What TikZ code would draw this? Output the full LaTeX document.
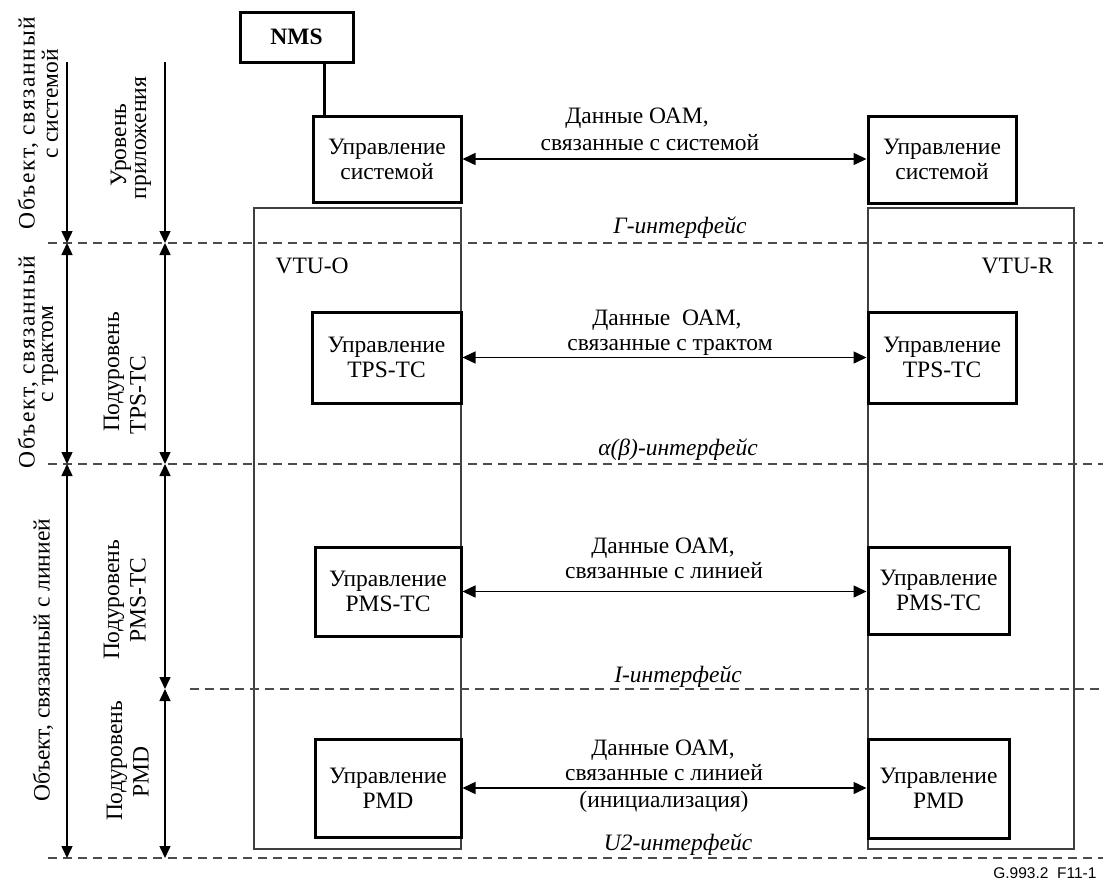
\documentclass[tikz,border=0pt]{standalone}
\usepackage{fontspec}
\setmainfont{Liberation Serif}
\newfontfamily\labelsans{Liberation Sans}
\newfontfamily\widefont[LetterSpace=7]{Liberation Serif}
\usetikzlibrary{arrows.meta}
\begin{document}
\begin{tikzpicture}[x=1pt,y=-1pt,
  every node/.style={font=\fontsize{23.5}{25}\selectfont},
  blk/.style={draw, line width=3pt, inner sep=0pt, align=center},
  unit/.style={draw=black!75, line width=1.3pt, inner sep=0pt},
  iface/.style={draw=black!70, line width=1.3pt, dash pattern=on 9pt off 6pt},
  dimline/.style={line width=1.5pt, {Triangle[length=12pt,width=11pt]}-{Triangle[length=12pt,width=11pt]}},
  dimend/.style={line width=1.5pt, -{Triangle[length=12pt,width=11pt]}},
  flow/.style={line width=1.5pt, {Triangle[length=13pt,width=12pt]}-{Triangle[length=13pt,width=12pt]}},
  lbl/.style={anchor=base},
  iflbl/.style={anchor=base, font=\fontsize{23.5}{25}\selectfont\itshape},
  vlbl/.style={rotate=90, anchor=center},
  vwide/.style={rotate=90, anchor=center, font=\widefont\fontsize{23.5}{25}\selectfont},
]
\useasboundingbox (0,0) rectangle (1103,881);

% VTU units
\node[unit, minimum width=207pt, minimum height=641pt] (vtuO) at (357.5,528.5) {};
\node[unit, minimum width=206pt, minimum height=641pt] (vtuR) at (971,528.5) {};
\node[anchor=base west] (vtuOlbl) at (272,273) {VTU-O};
\node[anchor=base east] (vtuRlbl) at (1057,273) {VTU-R};

% interfaces
\coordinate (gL) at (48,243);  \coordinate (gR) at (1103,243);
\coordinate (abL) at (48,464); \coordinate (abR) at (1103,464);
\coordinate (iL) at (190,689); \coordinate (iR) at (1103,689);
\coordinate (uL) at (48,858);  \coordinate (uR) at (1103,858);
\draw[iface] (gL) -- (gR);
\draw[iface] (abL) -- (abR);
\draw[iface] (iL) -- (iR);
\draw[iface] (uL) -- (uR);
\node[iflbl] (gLbl) at (680,233) {Г-интерфейс};
\node[iflbl] (abLbl) at (678,455) {α(β)-интерфейс};
\node[iflbl] (iLbl) at (678,682) {I-интерфейс};
\node[iflbl] (uLbl) at (678,850) {U2-интерфейс};

% NMS
\node[blk, minimum width=113pt, minimum height=50pt] (nms) at (296.5,37) {\bfseries NMS};

% management blocks
\node[blk, fill=white, minimum width=148pt, minimum height=86pt] (sysL) at (387,159) {Управление\\системой};
\node[blk, fill=white, minimum width=148pt, minimum height=87pt] (sysR) at (942,159.5) {Управление\\системой};
\node[blk, fill=white, minimum width=149pt, minimum height=91pt] (tpsL) at (386.5,357.5) {Управление\\TPS-TC};
\node[blk, fill=white, minimum width=148pt, minimum height=91pt] (tpsR) at (942,357.5) {Управление\\TPS-TC};
\node[blk, fill=white, minimum width=146pt, minimum height=89pt] (pmsL) at (388,591.5) {Управление\\PMS-TC};
\node[blk, fill=white, minimum width=141pt, minimum height=87pt] (pmsR) at (938.5,590.5) {Управление\\PMS-TC};
\node[blk, fill=white, minimum width=146pt, minimum height=98pt] (pmdL) at (388,788) {Управление\\PMD};
\node[blk, fill=white, minimum width=141pt, minimum height=99pt] (pmdR) at (938.5,788.5) {Управление\\PMD};

\draw[line width=3pt] ([xshift=27.5pt]nms.south) -- ([xshift=27.5pt]nms.south |- sysL.north);

% OAM flows
\draw[flow] (sysL.east) -- (sysL.east -| sysR.west);
\draw[flow] (tpsL.east) -- (tpsL.east -| tpsR.west);
\draw[flow] (pmsL.east) -- (pmsL.east -| pmsR.west);
\draw[flow] (pmdL.east) -- (pmdL.east -| pmdR.west);

\node[lbl] (s1) at (637,123) {Данные ОАМ,};
\node[lbl] (s2) at (650,150) {связанные с системой};
\node[lbl] (t1) at (667,325) {Данные\ \ ОАМ,};
\node[lbl] (t2) at (670,350) {связанные с трактом};
\node[lbl] (p1) at (663,553) {Данные ОАМ,};
\node[lbl] (p2) at (664,578) {связанные с линией};
\node[lbl] (d1) at (663,755) {Данные ОАМ,};
\node[lbl] (d2) at (664,780) {связанные с линией};
\node[lbl] (d3) at (664,807) {(инициализация)};

% left dimension lines
\coordinate (a0) at (67,62);  \coordinate (a1) at (67,243);
\coordinate (a2) at (67,464); \coordinate (a3) at (67,858);
\coordinate (b0) at (165,62);  \coordinate (b1) at (165,243);
\coordinate (b2) at (165,464); \coordinate (b3) at (165,689);
\coordinate (b4) at (165,858);
\draw[dimend] (a0) -- (a1);
\draw[dimline] (a1) -- (a2);
\draw[dimline] (a2) -- (a3);
\draw[dimend] (b0) -- (b1);
\draw[dimline] (b1) -- (b2);
\draw[dimline] (b2) -- (b3);
\draw[dimline] (b3) -- (b4);

% left labels
\node[vwide] (o1a) at (28,123) {Объект, связанный};
\node[vlbl] (o1b) at (50,104) {с системой};
\node[vlbl] (u1a) at (121,145) {Уровень};
\node[vlbl] (u1b) at (143,138) {приложения};
\node[vwide] (o2a) at (28,362) {Объект, связанный};
\node[vlbl] (o2b) at (50,354) {с трактом};
\node[vlbl] (u2a) at (114,372) {Подуровень};
\node[vlbl] (u2b) at (138,395) {TPS-TC};
\node[vlbl] (o3) at (43,660) {Объект, связанный с линией};
\node[vlbl] (u3a) at (114,600) {Подуровень};
\node[vlbl] (u3b) at (138,600) {PMS-TC};
\node[vlbl] (u4a) at (117,761) {Подуровень};
\node[vlbl] (u4b) at (141,772) {PMD};

\node[anchor=base east, font=\labelsans\fontsize{15.5}{17}\selectfont] (figid) at (1100,878) {G.993.2\ \ F11-1};
\end{tikzpicture}
\end{document}
